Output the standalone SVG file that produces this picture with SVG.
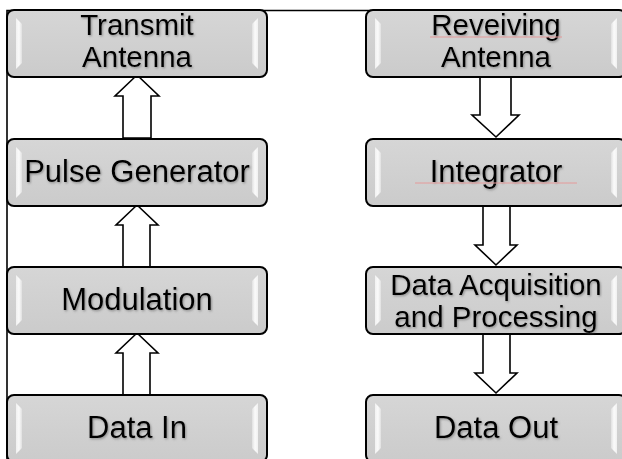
<svg xmlns="http://www.w3.org/2000/svg" width="622" height="459" viewBox="0 0 622 459">
  <defs>
    <linearGradient id="boxFill" x1="0" y1="0" x2="0" y2="1">
      <stop offset="0" stop-color="#d6d6d6"/>
      <stop offset="1" stop-color="#cbcbcb"/>
    </linearGradient>
    <linearGradient id="bevelL" x1="0" y1="0" x2="1" y2="0">
      <stop offset="0" stop-color="#f4f4f4"/>
      <stop offset="0.5" stop-color="#ffffff"/>
      <stop offset="1" stop-color="#e2e2e2"/>
    </linearGradient>
    <linearGradient id="bevelR" x1="1" y1="0" x2="0" y2="0">
      <stop offset="0" stop-color="#f4f4f4"/>
      <stop offset="0.5" stop-color="#ffffff"/>
      <stop offset="1" stop-color="#e2e2e2"/>
    </linearGradient>
    <filter id="txtShadow" x="-10%" y="-20%" width="120%" height="140%">
      <feDropShadow dx="1" dy="1.2" stdDeviation="0.8" flood-color="#555" flood-opacity="0.55"/>
    </filter>
    <!-- one beveled box, 260 x 67, origin at its top-left corner -->
    <g id="box">
      <rect x="0" y="0" width="260" height="67" rx="7" ry="7" fill="url(#boxFill)" stroke="#000" stroke-width="2"/>
      <polygon points="9,8 15,14 15,53 9,59" fill="url(#bevelL)" opacity="0.9"/>
      <polygon points="251,8 245,14 245,53 251,59" fill="url(#bevelR)" opacity="0.9"/>
    </g>
  </defs>
  <style>
    .lbl { font-family: "Liberation Sans", Arial, sans-serif; font-size: 31px; fill: #000; text-anchor: middle; filter: url(#txtShadow); }
    .lbl2 { font-size: 29.5px; }
    .arrow { fill: #fff; stroke: #000; stroke-width: 1.6; stroke-linejoin: miter; }
    .frame { fill: none; stroke: #000; stroke-width: 1.6; }
    .squiggle { fill: none; stroke: #e59a9a; stroke-width: 1; }
  </style>

  <rect width="622" height="459" fill="#fff"/>

  <!-- outer frame lines -->
  <g id="frame">
    <path class="frame" d="M7,459 V10.5 H621"/>
  </g>

  <!-- connectors -->
  <g id="connectors">
    <!-- transmit chain, pointing up -->
    <polygon class="arrow" points="137,75 159,96 151,96 151,138 123,138 123,96 115,96"/>
    <polygon class="arrow" points="137,205 158,225 150,225 150,267 123,267 123,225 116,225"/>
    <polygon class="arrow" points="137,333 158,353 150,353 150,395 123,395 123,353 116,353"/>
    <!-- receive chain, pointing down -->
    <polygon class="arrow" points="480,76 511,76 511,115 519,115 496,137 472,115 480,115"/>
    <polygon class="arrow" points="483,206 510,206 510,245 517,245 496,265 475,245 483,245"/>
    <polygon class="arrow" points="483,334 510,334 510,373 517,373 496,393 475,373 483,373"/>
  </g>

  <!-- transmitter column -->
  <g id="transmit-antenna">
    <use href="#box" x="7" y="10"/>
    <text class="lbl lbl2" x="137" y="35">Transmit</text>
    <text class="lbl lbl2" x="137" y="67">Antenna</text>
  </g>
  <g id="pulse-generator">
    <use href="#box" x="7" y="139"/>
    <text class="lbl" x="137" y="182">Pulse Generator</text>
  </g>
  <g id="modulation">
    <use href="#box" x="7" y="267"/>
    <text class="lbl" x="137" y="310">Modulation</text>
  </g>
  <g id="data-in">
    <use href="#box" x="7" y="395"/>
    <text class="lbl" x="137" y="438">Data In</text>
  </g>

  <!-- receiver column -->
  <g id="receiving-antenna">
    <use href="#box" x="366" y="10"/>
    <text class="lbl lbl2" x="496" y="35">Reveiving</text>
    <text class="lbl lbl2" x="496" y="67">Antenna</text>
    <path class="squiggle" d="M430,37 H562"/>
  </g>
  <g id="integrator">
    <use href="#box" x="366" y="139"/>
    <text class="lbl" x="496" y="182">Integrator</text>
    <path class="squiggle" d="M415,183 H577"/>
  </g>
  <g id="data-acquisition">
    <use href="#box" x="366" y="267"/>
    <text class="lbl lbl2" x="496" y="295">Data Acquisition</text>
    <text class="lbl lbl2" x="496" y="327">and Processing</text>
  </g>
  <g id="data-out">
    <use href="#box" x="366" y="395"/>
    <text class="lbl" x="496" y="438">Data Out</text>
  </g>
</svg>
